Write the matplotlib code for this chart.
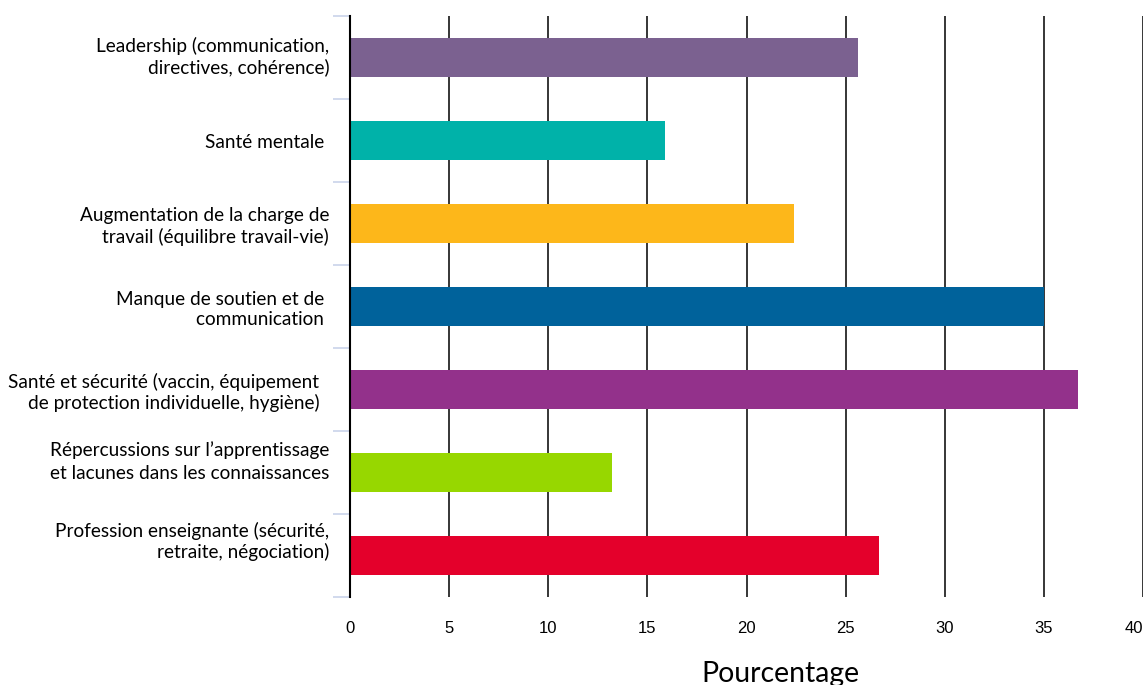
import matplotlib
matplotlib.use("Agg")
from matplotlib import pyplot as plt
from matplotlib import transforms as mtrans
import numpy as np

categories = [
    "Leadership (communication,\ndirectives, cohérence)",
    "Santé mentale ",
    "Augmentation de la charge de\ntravail (équilibre travail-vie)",
    "Manque de soutien et de \ncommunication ",
    "Santé et sécurité (vaccin, équipement  \nde protection individuelle, hygiène)  ",
    "Répercussions sur l’apprentissage\net lacunes dans les connaissances",
    "Profession enseignante (sécurité,\nretraite, négociation)",
]
values = [25.6, 15.9, 22.4, 35.0, 36.7, 13.2, 26.7]
colors = ["#7B6190", "#00B2A9", "#FDB71A", "#00629B", "#93318B", "#97D700", "#E4002B"]
xticks = [0, 5, 10, 15, 20, 25, 30, 35, 40]

fig = plt.figure(figsize=(11.47, 6.85), dpi=100)
ax = fig.add_axes([350/1147, 1-597/685, 793/1147, 581/685])

ypos = np.arange(len(categories))
ax.barh(ypos, values, height=0.48, color=colors, zorder=2)

ax.set_xlim(0, 40)
ax.set_ylim(len(categories)-0.5, -0.5)

# vertical grid lines
ax.set_xticks(xticks)
ax.set_xticklabels([str(t) for t in xticks], fontfamily="Liberation Sans", fontsize=12)
ax.get_xticklabels()[-1].set_ha("right")
ax.grid(axis="x", color="black", linewidth=1.1, zorder=1)
ax.tick_params(axis="x", length=0, pad=17)

ax.set_yticks(ypos)
ax.set_yticklabels(categories, fontfamily="Lato", fontsize=13.7, linespacing=1.2)
ax.set_yticks(np.arange(len(categories)+1)-0.5, minor=True)
ax.tick_params(axis="y", which="major", length=0, pad=15)
ax.tick_params(axis="y", which="minor", length=12, width=1.2, color="#c9d3ea")

# some labels sit a bit higher than their bars in the original
ylabels = ax.get_yticklabels()
ylabels[5].set_linespacing(1.4)
for lab, dy in [(ylabels[0], 4), (ylabels[5], 15), (ylabels[6], 17)]:
    lab.set_transform(lab.get_transform() + mtrans.ScaledTranslation(0, dy/100, fig.dpi_scale_trans))

for s in ["top", "right", "bottom"]:
    ax.spines[s].set_visible(False)
ax.spines["left"].set_color("black")
ax.spines["left"].set_linewidth(1.5)
ax.spines["left"].set_zorder(3)

fig.text(780/1147, 1-674/685, "Pourcentage", fontfamily="Lato", fontsize=20.4,
         ha="center", va="center")

fig.savefig("out.png", dpi=100)
